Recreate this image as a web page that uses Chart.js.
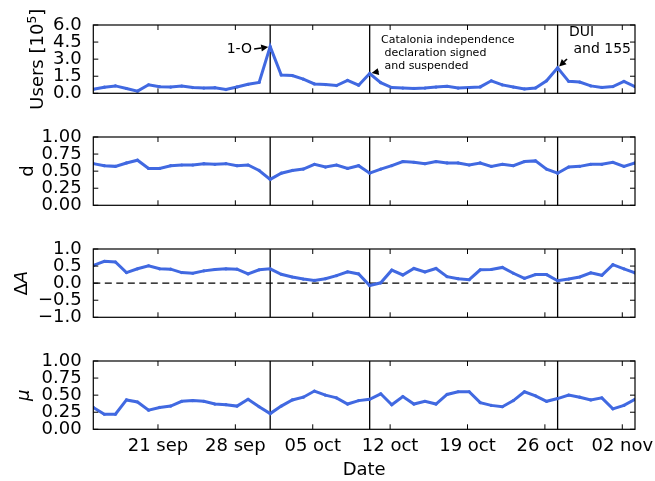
<!DOCTYPE html>
<html>
<head>
<meta charset="utf-8">
<title>Users, d, ΔA and μ per day</title>
<script src="https://cdn.jsdelivr.net/npm/chart.js@4.4.1/dist/chart.umd.min.js"></script>
<style>
  html, body { margin: 0; padding: 0; background: #fff; }
  #figure { position: relative; width: 655px; height: 481px; overflow: hidden; }
  #figure canvas { position: absolute; left: 0; top: 0; }
</style>
</head>
<body>
<div id="figure">
  <canvas id="panel0" width="655" height="481"></canvas>
  <canvas id="panel1" width="655" height="481"></canvas>
  <canvas id="panel2" width="655" height="481"></canvas>
  <canvas id="panel3" width="655" height="481"></canvas>
</div>
<script>
// ---- data: one sample per day, 15 Sep - 3 Nov ----
const dates = [
  '09-15','09-16','09-17','09-18','09-19','09-20','09-21','09-22','09-23','09-24',
  '09-25','09-26','09-27','09-28','09-29','09-30','10-01','10-02','10-03','10-04',
  '10-05','10-06','10-07','10-08','10-09','10-10','10-11','10-12','10-13','10-14',
  '10-15','10-16','10-17','10-18','10-19','10-20','10-21','10-22','10-23','10-24',
  '10-25','10-26','10-27','10-28','10-29','10-30','10-31','11-01','11-02','11-03'
];
const tickDates  = ['09-21','09-28','10-05','10-12','10-19','10-26','11-02'];
const tickLabels = ['21 sep','28 sep','05 oct','12 oct','19 oct','26 oct','02 nov'];
const eventDates = ['10-01','10-10','10-27'];

// active users, in units of 10^5
const users = [
  0.35,0.54,0.65,0.42,0.19,0.75,0.58,0.55,0.64,0.50,
  0.46,0.49,0.33,0.56,0.79,0.96,4.10,1.61,1.56,1.24,
  0.82,0.77,0.68,1.14,0.71,1.74,0.93,0.50,0.46,0.43,
  0.46,0.55,0.61,0.46,0.50,0.56,1.10,0.74,0.55,0.38,
  0.47,1.10,2.24,1.05,0.99,0.65,0.52,0.59,1.05,0.59
];
const dValues = [
  0.61,0.58,0.57,0.62,0.66,0.54,0.54,0.58,0.59,0.59,
  0.61,0.60,0.61,0.58,0.59,0.51,0.38,0.47,0.51,0.53,
  0.60,0.56,0.59,0.54,0.58,0.47,0.53,0.58,0.64,0.63,
  0.61,0.64,0.62,0.62,0.59,0.62,0.57,0.60,0.58,0.64,
  0.65,0.53,0.47,0.56,0.57,0.60,0.60,0.63,0.57,0.62
];
const deltaA = [
  0.52,0.64,0.62,0.31,0.42,0.51,0.42,0.41,0.31,0.29,
  0.36,0.40,0.42,0.41,0.27,0.39,0.42,0.26,0.18,0.12,
  0.08,0.13,0.22,0.33,0.27,-0.07,0.01,0.38,0.24,0.43,
  0.33,0.43,0.19,0.13,0.10,0.39,0.40,0.46,0.29,0.14,
  0.25,0.25,0.07,0.12,0.18,0.30,0.23,0.54,0.42,0.30
];
const mu = [
  0.32,0.22,0.22,0.43,0.40,0.28,0.32,0.34,0.41,0.42,
  0.41,0.37,0.36,0.34,0.44,0.33,0.23,0.34,0.43,0.47,
  0.56,0.50,0.46,0.37,0.42,0.44,0.52,0.36,0.48,0.37,
  0.41,0.37,0.51,0.55,0.55,0.39,0.35,0.33,0.42,0.55,
  0.49,0.41,0.45,0.50,0.47,0.43,0.46,0.30,0.35,0.44
];

const usersTicks = [0, 1.5, 3, 4.5, 6];
const usersTickLabels = ['0.0','1.5','3.0','4.5','6.0'];
const unitTicks = [0, 0.25, 0.5, 0.75, 1];
const unitTickLabels = ['0.00','0.25','0.50','0.75','1.00'];
const deltaTicks = [-1, -0.5, 0, 0.5, 1];
const deltaTickLabels = ['\u22121.0','\u22120.5','0.0','0.5','1.0'];

const eventNotes = [
  ['1-O'],
  ['Catalonia independence', ' declaration signed', ' and suspended'],
  ['DUI', ' and 155']
];

// ---- layout & style ----
const FIG = { w: 655, h: 481, left: 93.3, right: 635, top: 25, pitch: 112, height: 68.3 };
const BLUE = '#4169e1';
const SANS = '"DejaVu Sans"';
const TICK = 5;            // inward tick length
const TICK_SHIFT = -0.15;  // date ticks sit at midnight, samples a few hours later

const dayIndex = d => dates.indexOf(d);

function drawRotated(ctx, runs, x, yc) {
  ctx.save();
  ctx.translate(x, yc);
  ctx.rotate(-Math.PI / 2);
  ctx.textBaseline = 'alphabetic';
  ctx.textAlign = 'left';
  ctx.fillStyle = '#000';
  let total = 0;
  const widths = runs.map(r => { ctx.font = r.font; const w = ctx.measureText(r.text).width; total += w; return w; });
  let cx = -total / 2;
  runs.forEach((r, i) => { ctx.font = r.font; ctx.fillText(r.text, cx, -(r.rise || 0)); cx += widths[i]; });
  ctx.restore();
}

function drawArrow(ctx, x0, y0, x1, y1) {
  const dx = x1 - x0, dy = y1 - y0, len = Math.hypot(dx, dy);
  const ux = dx / len, uy = dy / len;
  const tipX = x1 - ux * 2, tipY = y1 - uy * 2;   // small gap before the point
  const headL = 7, headW = 3.5;
  const bx = tipX - ux * headL, by = tipY - uy * headL;
  ctx.save();
  ctx.strokeStyle = '#000'; ctx.fillStyle = '#000'; ctx.lineWidth = 1.6;
  if (len - 2 > headL) { ctx.beginPath(); ctx.moveTo(x0, y0); ctx.lineTo(bx, by); ctx.stroke(); }
  ctx.beginPath();
  ctx.moveTo(tipX, tipY);
  ctx.lineTo(bx - uy * headW, by + ux * headW);
  ctx.lineTo(bx + uy * headW, by - ux * headW);
  ctx.closePath(); ctx.fill();
  ctx.restore();
}

const decor = {
  id: 'decor',
  beforeDatasetsDraw(chart, _args, o) {
    const { ctx, chartArea: a, scales: { x, y } } = chart;
    ctx.save();
    ctx.strokeStyle = '#000';
    ctx.lineWidth = 1.3;
    for (const d of eventDates) {
      const px = x.getPixelForValue(dayIndex(d));
      ctx.beginPath(); ctx.moveTo(px, a.top); ctx.lineTo(px, a.bottom); ctx.stroke();
    }
    if (o.zeroLine) {
      const py = y.getPixelForValue(0);
      ctx.setLineDash([7, 4.5]);
      ctx.beginPath(); ctx.moveTo(a.left, py); ctx.lineTo(a.right, py); ctx.stroke();
    }
    ctx.restore();
  },
  afterDatasetsDraw(chart, _args, o) {
    const { ctx, chartArea: a, scales: { x, y } } = chart;
    ctx.save();
    ctx.strokeStyle = '#000';
    ctx.lineWidth = 1.2;
    ctx.strokeRect(a.left, a.top, a.right - a.left, a.bottom - a.top);
    ctx.lineWidth = 1;
    ctx.beginPath();
    for (const t of x.ticks) {
      const px = x.getPixelForValue(t.value);
      ctx.moveTo(px, a.bottom); ctx.lineTo(px, a.bottom - TICK);
      ctx.moveTo(px, a.top); ctx.lineTo(px, a.top + TICK);
    }
    for (const t of y.ticks) {
      const py = y.getPixelForValue(t.value);
      ctx.moveTo(a.left, py); ctx.lineTo(a.left + TICK, py);
      ctx.moveTo(a.right, py); ctx.lineTo(a.right - TICK, py);
    }
    ctx.stroke();
    ctx.restore();

    drawRotated(ctx, o.title, a.left - o.titleOffset, (a.top + a.bottom) / 2);

    for (const n of (o.notes || [])) {
      const tx = x.getPixelForValue(n.at[0]), ty = y.getPixelForValue(n.at[1]);
      ctx.save();
      ctx.fillStyle = '#000';
      ctx.font = n.size + 'px ' + SANS;
      ctx.textAlign = n.align;
      ctx.textBaseline = 'middle';
      n.lines.forEach((line, i) => ctx.fillText(line, tx, ty + i * n.lineHeight));
      ctx.restore();
      const hx = x.getPixelForValue(n.point[0]), hy = y.getPixelForValue(n.point[1]);
      drawArrow(ctx, x.getPixelForValue(n.tail[0]), y.getPixelForValue(n.tail[1]), hx, hy);
    }
  }
};

const panels = [
  {
    values: users, min: 0, max: 6, ticks: usersTicks, tickLabels: usersTickLabels,
    titleOffset: 50.6,
    title: [
      { text: 'Users ', font: '18px ' + SANS },
      { text: '[10', font: '18px ' + SANS },
      { text: '5', font: '12.5px ' + SANS, rise: 7 },
      { text: ']', font: '18px ' + SANS }
    ],
    notes: [
      { lines: eventNotes[0], size: 14, align: 'right', lineHeight: 17, at: [14.36, 3.89],
        tail: [14.55, 3.89], point: [dayIndex('10-01'), users[dayIndex('10-01')]] },
      { lines: eventNotes[1], size: 11, align: 'left', lineHeight: 13.3, at: [26.02, 4.68],
        tail: [25.84, 1.92], point: [dayIndex('10-10'), users[dayIndex('10-10')]] },
      { lines: eventNotes[2], size: 14, align: 'left', lineHeight: 17, at: [43.03, 5.39],
        tail: [42.85, 3.01], point: [dayIndex('10-27'), users[dayIndex('10-27')]] }
    ]
  },
  {
    values: dValues, min: 0, max: 1, ticks: unitTicks, tickLabels: unitTickLabels,
    titleOffset: 60.3,
    title: [{ text: 'd', font: '18px ' + SANS }]
  },
  {
    values: deltaA, min: -1, max: 1, ticks: deltaTicks, tickLabels: deltaTickLabels,
    titleOffset: 66, zeroLine: true,
    title: [{ text: '\u0394', font: '18px ' + SANS }, { text: 'A', font: 'italic 18px ' + SANS }]
  },
  {
    values: mu, min: 0, max: 1, ticks: unitTicks, tickLabels: unitTickLabels,
    titleOffset: 64.3,
    title: [{ text: '\u03bc', font: 'italic 18px ' + SANS }]
  }
];

Chart.defaults.font.family = SANS;
Chart.defaults.color = '#000';

panels.forEach((p, k) => {
  const top = FIG.top + FIG.pitch * k;
  const bottom = top + FIG.height;
  const isLast = k === panels.length - 1;
  const xAxisH = isLast ? FIG.h - bottom : 0;

  new Chart(document.getElementById('panel' + k), {
    type: 'line',
    data: {
      datasets: [{
        data: p.values.map((v, i) => ({ x: i, y: v })),
        borderColor: BLUE,
        backgroundColor: BLUE,
        borderWidth: 3,
        pointRadius: 1.6,
        pointBorderWidth: 0,
        tension: 0,
        fill: false,
        clip: 0
      }]
    },
    options: {
      responsive: false,
      animation: false,
      devicePixelRatio: 1,
      events: [],
      layout: { padding: { left: 0, right: FIG.w - FIG.right, top: top, bottom: FIG.h - bottom - xAxisH } },
      plugins: {
        legend: { display: false },
        tooltip: { enabled: false },
        decor: { title: p.title, titleOffset: p.titleOffset, zeroLine: !!p.zeroLine, notes: p.notes }
      },
      scales: {
        x: {
          type: 'linear',
          min: 0,
          max: dates.length - 1,
          afterBuildTicks: s => { s.ticks = tickDates.map(d => ({ value: dayIndex(d) + TICK_SHIFT })); },
          afterFit: s => { s.height = xAxisH; s.paddingLeft = 0; s.paddingRight = 0; },
          grid: { display: false, drawTicks: false },
          border: { display: false },
          ticks: {
            display: isLast, autoSkip: false, maxRotation: 0, minRotation: 0, padding: 6.5,
            color: '#000', font: { family: SANS, size: 18 },
            callback: (v, i) => tickLabels[i]
          },
          title: {
            display: isLast, text: 'Date', color: '#000',
            font: { family: SANS, size: 18 }, padding: { top: 0, bottom: 0 }
          }
        },
        y: {
          min: p.min,
          max: p.max,
          afterBuildTicks: s => { s.ticks = p.ticks.map(v => ({ value: v })); },
          afterFit: s => { s.width = FIG.left; s.paddingTop = 0; s.paddingBottom = 0; },
          grid: { display: false, drawTicks: false },
          border: { display: false },
          ticks: {
            autoSkip: false, padding: 11.6, color: '#000', font: { family: SANS, size: 18 },
            callback: (v, i) => p.tickLabels[i]
          }
        }
      }
    },
    plugins: [decor]
  });
});
</script>
</body>
</html>
